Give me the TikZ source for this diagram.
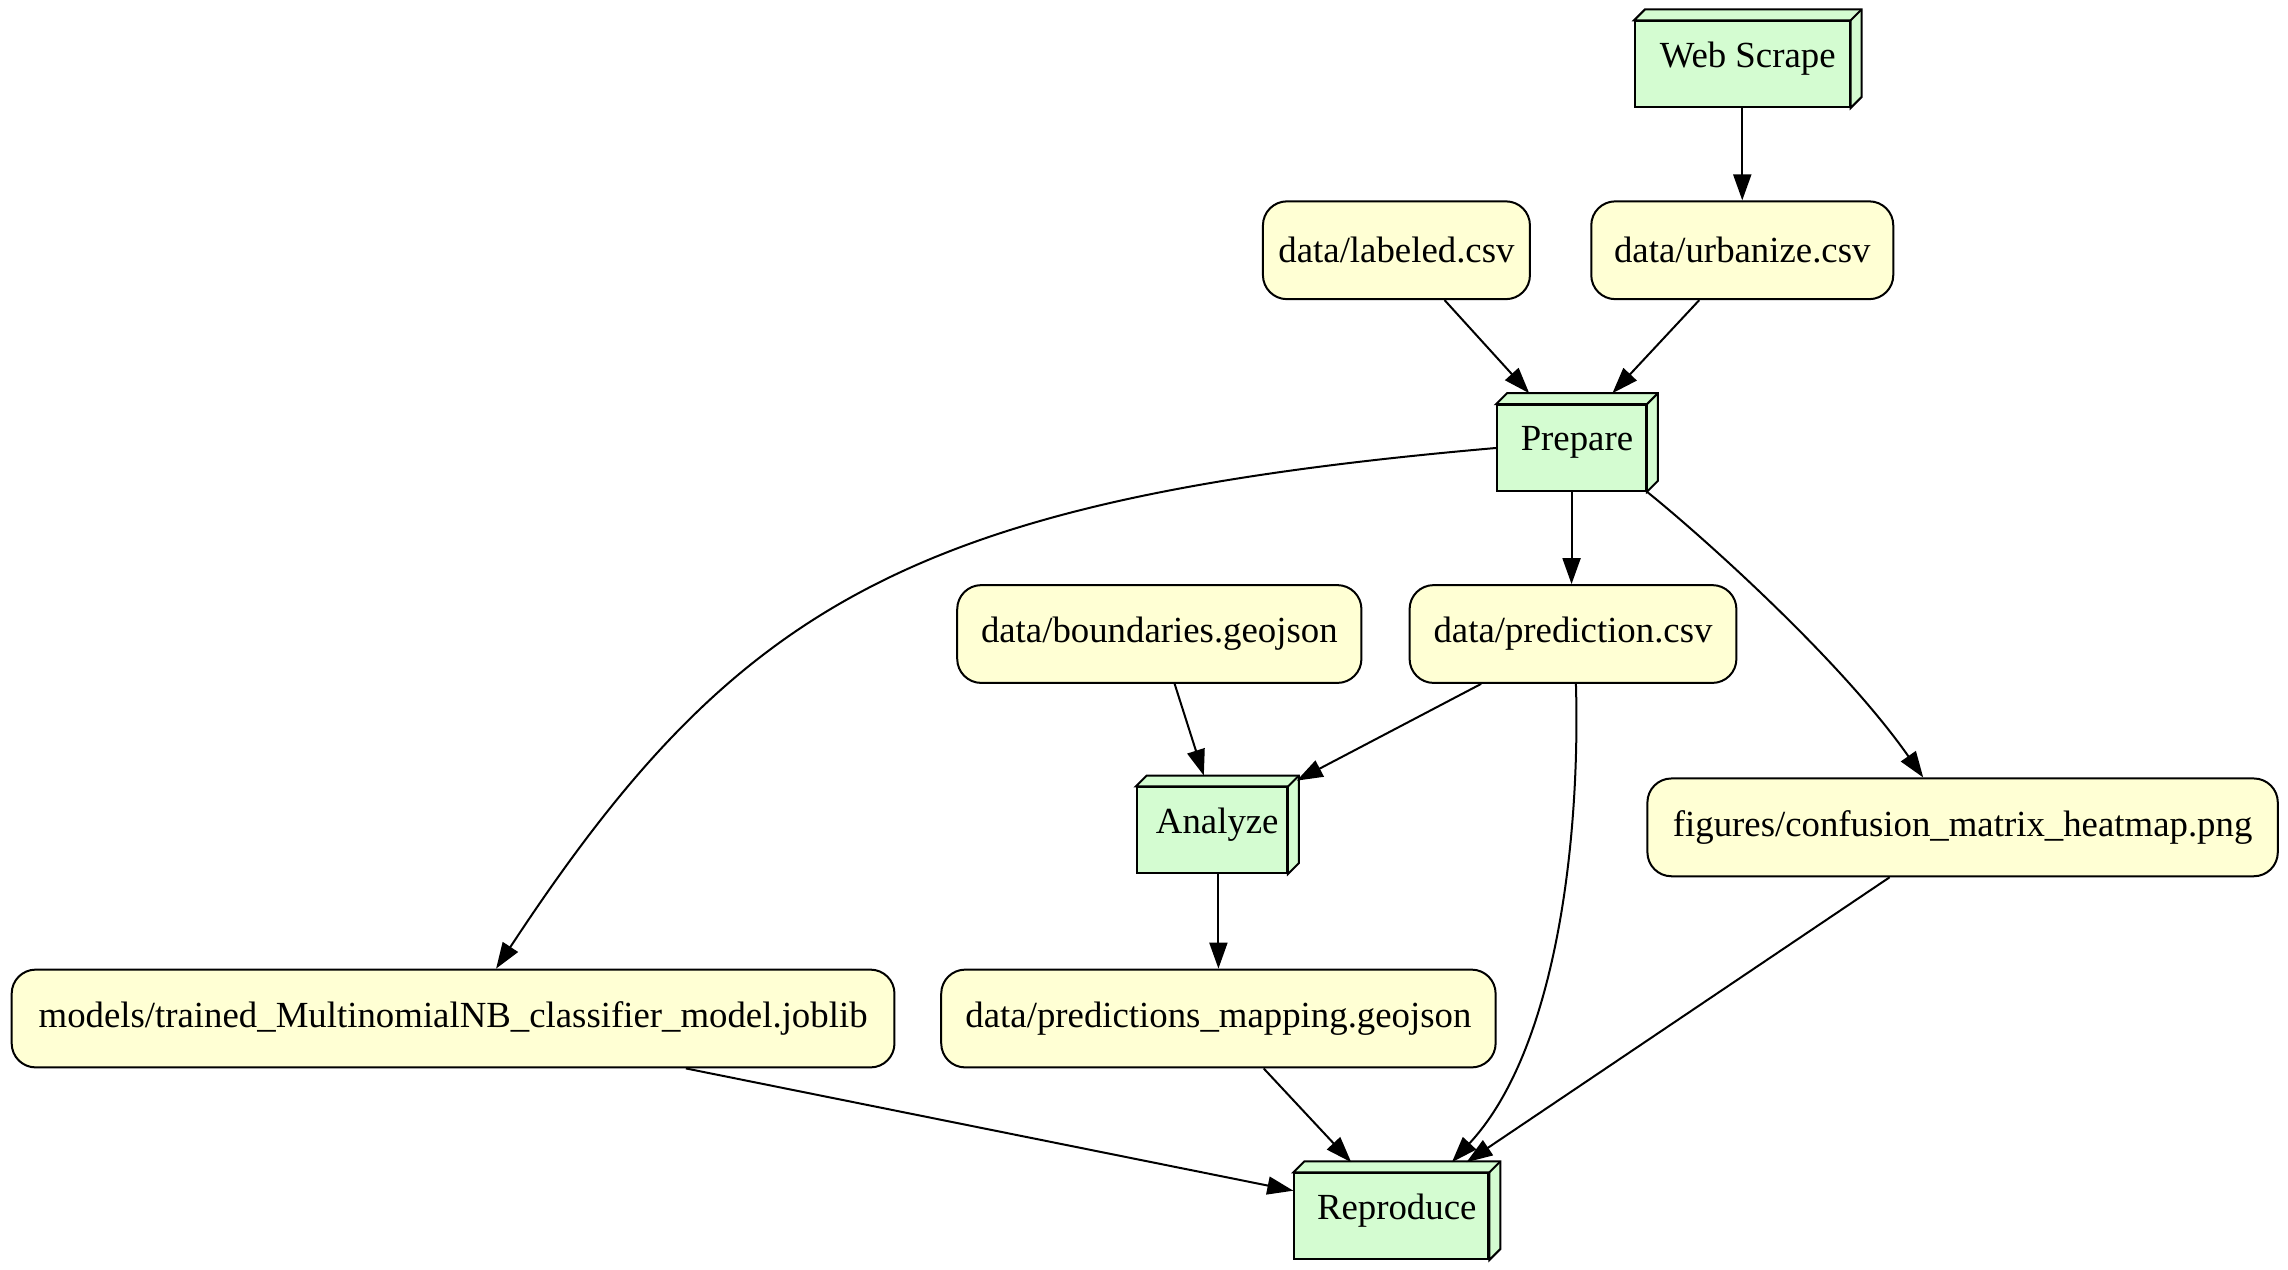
\documentclass[tikz,border=0pt]{standalone}
\usepackage{fontspec}
\setmainfont{Liberation Serif}
\usetikzlibrary{calc,arrows.meta}
\definecolor{procgreen}{HTML}{D4FCD1}
\definecolor{fileyellow}{HTML}{FFFFD4}
% label of a 3D box: centred on the whole box, front and depth together
\newcommand\boxlabel[1]{\raisebox{2.7pt}[\height][\depth]{\hspace*{2.7pt}#1\hspace*{-2.7pt}}}
\begin{document}
\begin{tikzpicture}[x=0.7296pt,y=-0.7296pt,
  every node/.style={font=\fontsize{18.4}{22}\selectfont},
  filenode/.style={draw, line width=1pt, fill=fileyellow, rounded corners=12pt,
    minimum height=48.9pt, inner sep=0pt},
  procnode/.style={draw, line width=1pt, fill=procgreen, minimum height=42.8pt, inner sep=0pt},
  depthface/.style={draw, line width=1pt, fill=procgreen, line join=miter},
  flow/.style={line width=1pt, -{Triangle[length=13pt,width=9pt]}}
]
\useasboundingbox (0,0) rectangle (1568,870);

% file nodes
\node[filenode, minimum width=133.5pt] (labeled) at (957,171.5)   {data/labeled.csv};
\node[filenode, minimum width=151pt]   (urb)     at (1194,171.5)  {data/urbanize.csv};
\node[filenode, minimum width=202.1pt] (bound)   at (794.5,434.5) {data/boundaries.geojson};
\node[filenode, minimum width=163.4pt] (pred)    at (1078,434.5)  {data/prediction.csv};
\node[filenode, minimum width=315.2pt] (conf)    at (1345,567)    {figures/confusion\_matrix\_heatmap.png};
\node[filenode, minimum width=441.4pt] (models)  at (310.5,698)   {models/trained\_MultinomialNB\_classifier\_model.joblib};
\node[filenode, minimum width=277.2pt] (map)     at (835,698)     {data/predictions\_mapping.geojson};

% process nodes (front faces)
\node[procnode, minimum width=107.3pt] (ws)   at (1194,44)     {\boxlabel{Web Scrape}};
\node[procnode, minimum width=74.4pt]  (prep) at (1077,307)    {\boxlabel{Prepare}};
\node[procnode, minimum width=75.1pt]  (ana)  at (830.5,569)   {\boxlabel{Analyze}};
\node[procnode, minimum width=97pt]    (rep)  at (953.5,833.5) {\boxlabel{Reproduce}};

% top and side faces of the process boxes
\foreach \n in {ws,prep,ana,rep}{
  \filldraw[depthface] (\n.north west) -- ++(7.5,-7.5) -- ($(\n.north east)+(7.5,-7.5)$)
    -- ($(\n.south east)+(7.5,-7.5)$) -- (\n.south east) -- (\n.north east) -- cycle;
  \draw[line width=1pt] (\n.north east) -- ++(7.5,-7.5);
}

% edges
\draw[flow] (ws.south) -- (urb.north);
\draw[flow] ($(labeled.south)+(33,0)$) -- ($(prep.north)+(-29,-7.5)$);
\draw[flow] ($(urb.south)+(-29.5,0)$) -- ($(prep.north)+(28,-7.5)$);
\draw[flow] (prep.west) .. controls (625,342) and (505,413) .. ($(models.north)+(29.5,0)$);
\draw[flow] (prep.south) -- (prep.south |- pred.north);
\draw[flow] (prep.south east) .. controls (1160,362) and (1260,450) .. ($(conf.north)+(-27,0)$);
\draw[flow] ($(bound.south)+(10.5,0)$) -- ($(ana.north)+(-5.5,-7.5)$);
\draw[flow] ($(pred.south)+(-63,0)$) -- ($(ana.north east)+(6,-4)$);
\draw[flow] (map.north |- ana.south) -- (map.north);
\draw[flow] ($(models.south)+(159.5,0)$) -- ($(rep.west)+(0,-17.5)$);
\draw[flow] ($(map.south)+(31,0)$) -- ($(rep.north)+(-27.5,-7)$);
\draw[flow] ($(pred.south)+(2,0)$) .. controls (1083,570) and (1068,718) .. ($(rep.north)+(41.5,-7)$);
\draw[flow] ($(conf.south)+(-50,0)$) -- ($(rep.north)+(51.5,-7)$);
\end{tikzpicture}
\end{document}
